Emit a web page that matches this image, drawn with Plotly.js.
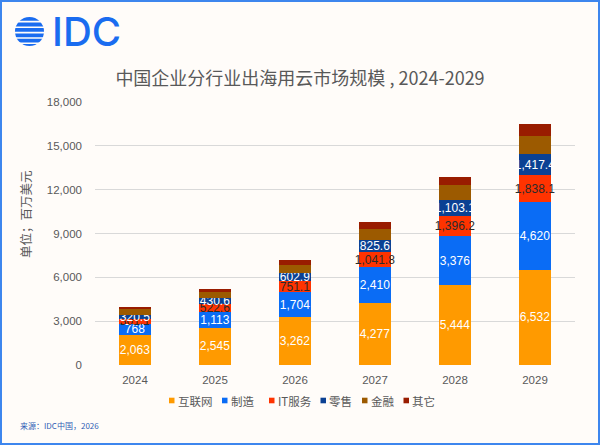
<!DOCTYPE html>
<html>
<head>
<meta charset="utf-8">
<script src="https://cdn.plot.ly/plotly-3.0.1.min.js"></script>
<style>
html,body{margin:0;padding:0;background:#fffcf9;}
#chart{width:600px;height:445px;}
</style>
</head>
<body>
<div id="chart"></div>
<script>
// ---- data ----
const years = ['2024','2025','2026','2027','2028','2029'];
const seriesNames = ['互联网','制造','IT服务','零售','金融','其它'];
const internet = [2063, 2545, 3262, 4277, 5444, 6532];
const manufacturing = [768, 1113, 1704, 2410, 3376, 4620];
const itServices = [301.1, 522.6, 751.1, 1041.8, 1396.2, 1838.1];
const retail = [320.5, 430.6, 602.9, 825.6, 1103.1, 1417.4];
const finance = [390, 400, 546, 770, 980, 1290];
const others = [130, 190, 320, 460, 590, 800];
const yTicks = [0, 3000, 6000, 9000, 12000, 15000, 18000];

// ---- styles ----
const colors = ['#ff9a00', '#0a6cf5', '#ff3300', '#0b4193', '#9c5a00', '#991c00'];
const labelFormats = ['%{y:,.0f}', '%{y:,.0f}', '%{y:,.1f}', '%{y:,.1f}', null, null];
const labelColors = ['#ffffff', '#ffffff', '#2b2b2b', '#ffffff', '#ffffff', '#ffffff'];
const allSeries = [internet, manufacturing, itServices, retail, finance, others];
const FONT = 'Liberation Sans, Arial, "Noto Sans CJK SC", sans-serif';
const CJK = '"Noto Sans CJK SC", "Liberation Sans", sans-serif';
const GRAY = '#595959';

const W = 600, H = 445;
const M = {l: 95, r: 25, t: 102, b: 80};
const PW = W - M.l - M.r, PH = H - M.t - M.b;
function px(x){ return (x - M.l) / PW; }
function py(y){ return (H - M.b - y) / PH; }

const traces = allSeries.map((vals, i) => {
  const t = {
    type: 'bar',
    name: seriesNames[i],
    x: years,
    y: vals,
    marker: {color: colors[i], line: {width: 0}},
    hoverinfo: 'skip',
    textangle: 0
  };
  if (labelFormats[i]) {
    t.texttemplate = labelFormats[i];
    t.textposition = 'inside';
    t.insidetextanchor = 'middle';
    t.textfont = {family: FONT, size: 12, color: labelColors[i]};
    t.constraintext = 'none';
  } else {
    t.textposition = 'none';
  }
  return t;
});

// legend (manual, compact like the reference)
const legendX = [169, 222, 269, 320.5, 362, 403.5];
const legendY = 400.5;
const shapes = [];
const annotations = [];
seriesNames.forEach((n, i) => {
  shapes.push({type: 'rect', xref: 'paper', yref: 'paper',
    x0: px(legendX[i]), x1: px(legendX[i] + 5.5),
    y0: py(legendY + 2.8), y1: py(legendY - 2.8),
    fillcolor: colors[i], line: {width: 0}});
  annotations.push({xref: 'paper', yref: 'paper', x: px(legendX[i] + 6.5), y: py(legendY),
    xanchor: 'left', yanchor: 'middle', showarrow: false, text: n,
    font: {family: CJK, size: 11.5, color: GRAY}});
});

// border
shapes.push({type: 'rect', xref: 'paper', yref: 'paper',
  x0: px(1), x1: px(599), y0: py(444), y1: py(1),
  line: {color: '#3d86ee', width: 2}, fillcolor: 'rgba(0,0,0,0)', layer: 'above'});

// logo globe
const LOGO = '#1a6cf0';
shapes.push({type: 'circle', xref: 'paper', yref: 'paper',
  x0: px(15), x1: px(44), y0: py(46), y1: py(17),
  fillcolor: LOGO, line: {width: 0}});
[21.6, 27.2, 32.6, 38.0, 43.2].forEach(yy => {
  shapes.push({type: 'line', xref: 'paper', yref: 'paper',
    x0: px(12), x1: px(47), y0: py(yy), y1: py(yy),
    line: {color: '#fffcf9', width: 1.6}});
});
annotations.push({xref: 'paper', yref: 'paper', x: px(50), y: py(32),
  xanchor: 'left', yanchor: 'middle', showarrow: false, text: 'IDC',
  font: {family: 'Inter, Roboto, sans-serif', size: 40, color: LOGO, weight: 500}});

// y axis title
annotations.push({xref: 'paper', yref: 'paper', x: px(25), y: py(214),
  xanchor: 'center', yanchor: 'middle', showarrow: false, textangle: -90,
  text: '单位；百万美元', font: {family: CJK, size: 12.5, color: GRAY}});

// source
annotations.push({xref: 'paper', yref: 'paper', x: px(18), y: py(425),
  xanchor: 'left', yanchor: 'middle', showarrow: false,
  text: '来源：IDC中国，2026', font: {family: CJK, size: 8, color: '#2f5cb5'}});

const layout = {
  width: W, height: H,
  margin: M,
  paper_bgcolor: '#fffcf9',
  plot_bgcolor: '#fffcf9',
  barmode: 'stack',
  bargap: 0.595,
  showlegend: false,
  uniformtext: {mode: 'show', minsize: 12},
  title: {
    text: '中国企业分行业出海用云市场规模 , 2024-2029',
    x: 0.5, xanchor: 'center', y: 1 - 79 / H, yanchor: 'middle',
    font: {family: CJK, size: 18, color: GRAY}
  },
  xaxis: {
    type: 'category',
    showgrid: false, zeroline: false, showline: false, ticks: '',
    tickfont: {family: FONT, size: 11.5, color: GRAY},
    ticklabelstandoff: 6
  },
  yaxis: {
    range: [0, 18000],
    tickvals: yTicks,
    tickformat: ',d',
    showgrid: true, gridcolor: '#d9d9d9', gridwidth: 1,
    zeroline: false, showline: false, ticks: '',
    tickfont: {family: FONT, size: 11.5, color: GRAY},
    ticklabelstandoff: 12
  },
  shapes: shapes,
  annotations: annotations
};

Plotly.newPlot('chart', traces, layout, {staticPlot: true, displayModeBar: false});
</script>
</body>
</html>
